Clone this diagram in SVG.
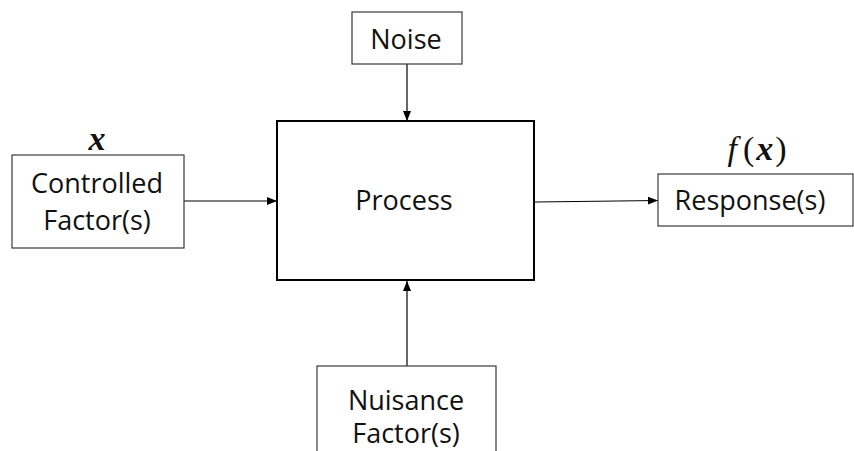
<svg xmlns="http://www.w3.org/2000/svg" width="854" height="451" viewBox="0 0 854 451">
  <style>
    .box { fill: #ffffff; stroke: #3a3a3a; stroke-width: 1.2; }
    .main { fill: #ffffff; stroke: #000000; stroke-width: 2; }
    .lbl { font-family: "Open Sans", "Noto Sans", sans-serif; font-size: 27px; fill: #111111; text-anchor: middle; }
    .math { font-family: "Liberation Serif", "DejaVu Serif", serif; font-size: 34px; fill: #111111; text-anchor: middle; }
    .var { font-style: italic; font-weight: bold; }
    .edge { stroke: #000000; stroke-width: 1.2; fill: none; marker-end: url(#arrow); }
  </style>
  <defs>
    <marker id="arrow" viewBox="0 0 10 10" refX="10" refY="5" markerWidth="10" markerHeight="10" markerUnits="userSpaceOnUse" orient="auto">
      <path d="M0,1 L10,5 L0,9 Z" fill="#000000"/>
    </marker>
  </defs>
  <rect width="854" height="451" fill="#ffffff"/>

  <g id="connectors">
    <line class="edge" x1="184" y1="201" x2="277" y2="201"/>
    <line class="edge" x1="407" y1="64" x2="407" y2="121"/>
    <line class="edge" x1="407" y1="366" x2="407" y2="281"/>
    <line class="edge" x1="535" y1="202" x2="658" y2="200.5"/>
  </g>

  <g id="process">
    <rect class="main" x="277" y="121" width="257" height="159"/>
    <text class="lbl" x="404" y="210">Process</text>
  </g>

  <g id="noise">
    <rect class="box" x="352" y="12" width="110" height="52"/>
    <text class="lbl" x="406" y="49">Noise</text>
  </g>

  <g id="controlled">
    <text class="math var" x="97" y="150">x</text>
    <rect class="box" x="12" y="155" width="172" height="93"/>
    <text class="lbl" x="97" y="193">Controlled</text>
    <text class="lbl" x="97" y="230">Factor(s)</text>
  </g>

  <g id="response">
    <text class="math" x="757" y="160"><tspan font-style="italic">f</tspan><tspan dx="6">(</tspan><tspan class="var" dx="2">x</tspan><tspan dx="2">)</tspan></text>
    <rect class="box" x="658" y="174" width="195" height="52"/>
    <text class="lbl" x="750" y="210">Response(s)</text>
  </g>

  <g id="nuisance">
    <rect class="box" x="317" y="366" width="179" height="95"/>
    <text class="lbl" x="406" y="410">Nuisance</text>
    <text class="lbl" x="406" y="443">Factor(s)</text>
  </g>
</svg>
